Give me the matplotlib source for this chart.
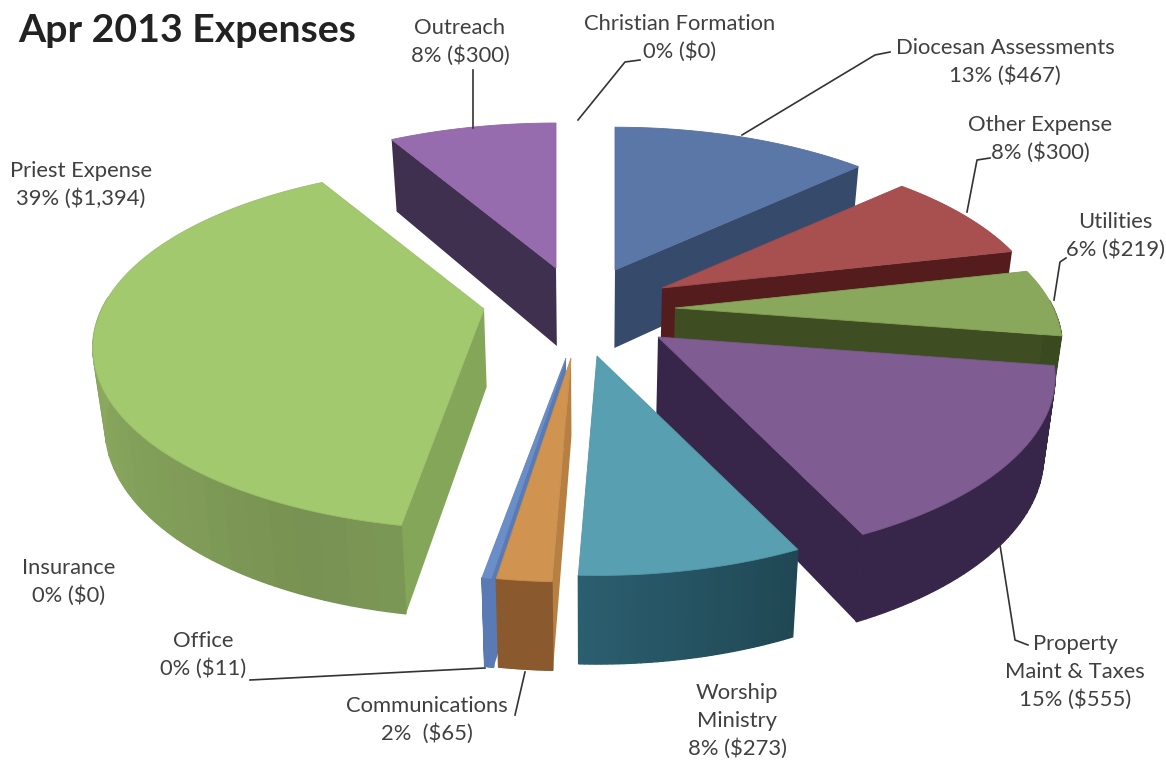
import numpy as np
import matplotlib
matplotlib.use('Agg')
import matplotlib.pyplot as plt
from matplotlib.patches import Polygon

plt.rcParams['font.family'] = ['Lato', 'DejaVu Sans']

# clockwise from 12 o'clock, as in the spreadsheet
categories = ['Christian Formation', 'Diocesan Assessments', 'Other Expense', 'Utilities',
              'Property\nMaint & Taxes', 'Worship\nMinistry', 'Communications', 'Office',
              'Insurance', 'Priest Expense', 'Outreach']
values = [0, 467, 300, 219, 555, 273, 65, 11, 0, 1394, 300]
percents = [0, 13, 8, 6, 15, 8, 2, 0, 0, 39, 8]

top_colors = ['#ffffff', '#5b77a8', '#a84f4f', '#8aa85c', '#7f5c92', '#589fb2', '#d09450', '#6a8ec8', '#999999', '#a3c96f', '#966cae']
rim_colors = ['#ffffff', '#364a6c', '#541c1c', '#3a4a20', '#38264a', '#2b5f70', '#8a5a2e', '#5a7ab5', '#999999', '#8cab60', '#3f3050']
edge_colors = ['#ffffff', '#364a6c', '#541c1c', '#3f4d22', '#38264a', '#2b5f70', '#b87f42', '#5a7ab5', '#999999', '#84a658', '#3f3050']

# apex of each exploded slice on the image, in pixels
apex = {1: (615, 270), 2: (662, 288), 3: (675, 308), 4: (658, 337), 5: (597, 356),
        6: (571, 358), 7: (566, 358), 9: (484, 309), 10: (556, 268)}
# the excel perspective does not quite fit one ellipse
radius_scale = {1: 0.985, 2: 0.97, 3: 0.975, 5: 0.98, 9: 0.985}
draw_order = [10, 1, 2, 3, 4, 9, 7, 6, 5]

RX, RY, PERSP, DEPTH, CENTER_X = 388, 176, 0.214, 78, 590


def rim_point(theta):
    # theta in degrees clockwise from the top, perspective makes the near side bigger
    t = np.radians(theta)
    x, y = np.sin(t), -np.cos(t)
    s = 1 / (1 - PERSP * y)
    return RX * x * s, RY * y * s, s


def shade(color, factor):
    rgb = np.array(matplotlib.colors.to_rgb(color))
    return tuple(np.clip(rgb * factor, 0, 1))


def draw_slice(ax, i, start, end):
    ax0, ay0 = apex[i]
    z = draw_order.index(i) * 3
    thetas = np.linspace(start, end, 121)
    xs, ys, ss = rim_point(thetas)
    scale = radius_scale.get(i, 1.0)
    xs, ys = xs * scale + ax0, ys * scale + ay0
    depth = DEPTH * (1 + (ss - 1) * 0.5)
    # lower edge leans a little to the middle of the pie
    xb = xs + (CENTER_X - xs) * 0.025
    yb = ys + depth
    apex_b = (ax0 + (CENTER_X - ax0) * 0.025, ay0 + DEPTH)

    # radial walls, only those turned to the viewer
    if np.sin(np.radians(end)) > 0.02:
        ax.add_patch(Polygon([(ax0, ay0), (xs[-1], ys[-1]), (xb[-1], yb[-1]), apex_b],
                             fc=edge_colors[i], ec='none', zorder=z + 1))
    if -np.sin(np.radians(start)) > 0.02:
        ax.add_patch(Polygon([(ax0, ay0), (xs[0], ys[0]), (xb[0], yb[0]), apex_b],
                             fc=edge_colors[i], ec='none', zorder=z + 1))

    # outer wall, a few strips so it can fade along the rim
    for k in range(0, len(thetas) - 1, 3):
        if np.cos(np.radians(thetas[k])) > 0.05:
            continue
        j = min(k + 3, len(thetas) - 1)
        fade = 1.0
        if i == 9:
            fade = 1.0 - 0.15 * (1 - abs(thetas[k] - 200) / 90) ** 2
        if i == 5:
            fade = 0.75 + 0.25 * k / len(thetas)
        quad = list(zip(xs[k:j + 1], ys[k:j + 1])) + list(zip(xb[k:j + 1], yb[k:j + 1]))[::-1]
        ax.add_patch(Polygon(quad, fc=shade(rim_colors[i], fade), ec=shade(rim_colors[i], fade), lw=1.0,
                             zorder=z + 2))

    # top face
    pts = [(ax0, ay0)] + list(zip(xs, ys))
    ax.add_patch(Polygon(pts, fc=top_colors[i], ec=shade(top_colors[i], 0.95), lw=0.6, zorder=z + 3))


fig = plt.figure(figsize=(11.66, 7.61), dpi=100)
ax = fig.add_axes([0, 0, 1, 1])
ax.set_xlim(0, 1166)
ax.set_ylim(761, 0)
ax.axis('off')

total = sum(values)
angle = np.cumsum([0] + values) / total * 360
for i in draw_order:
    draw_slice(ax, i, angle[i], angle[i + 1])

# label anchors and leader lines
label_pos = [(680, 38), (1005, 62), (1040, 139), (1115, 236), (1075, 672), (737, 721),
             (427, 720), (203, 655), (69, 582), (81, 185), (460, 42)]
leaders = [[(640, 60), (625, 62), (578, 120)],
           [(890, 52), (875, 55), (742, 135)],
           [(990, 158), (977, 160), (967, 212)],
           [(1066, 258), (1060, 262), (1054, 300)],
           [(1028, 645), (1015, 640), (1000, 545)],
           [],
           [(515, 715), (525, 672)],
           [(250, 680), (485, 668)],
           [],
           [],
           [(473, 70), (473, 128)]]

for i, name in enumerate(categories):
    gap = '  ' if name == 'Communications' else ' '
    text = '%s\n%d%%%s($%s)' % (name, percents[i], gap, format(values[i], ','))
    ax.text(label_pos[i][0], label_pos[i][1], text, ha='center', va='center', fontsize=15.8,
            color='#404040', linespacing=1.45, zorder=60)
    if leaders[i]:
        ax.plot(*zip(*leaders[i]), color='#333333', lw=1.2, zorder=55)

ax.text(18, 31, 'Apr 2013 Expenses', fontsize=28.3, fontweight='bold', color='#222222', ha='left', va='center')

fig.savefig('out.png', dpi=100)
